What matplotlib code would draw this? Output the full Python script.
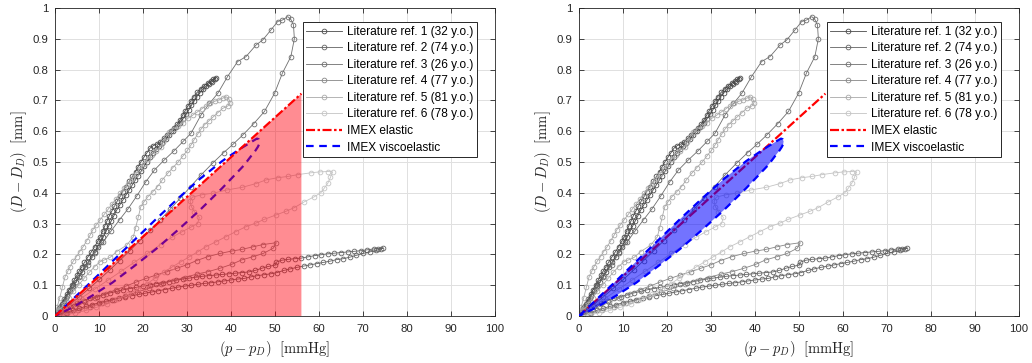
import numpy as np
import matplotlib
matplotlib.use('Agg')
import matplotlib.pyplot as plt

plt.rcParams['font.family'] = ['Liberation Sans', 'DejaVu Sans']
plt.rcParams['mathtext.fontset'] = 'cm'
plt.rcParams['lines.scale_dashes'] = False

# ---------------- data (pressure [mmHg], diameter change [mm]) ----------------
ref1 = np.array([
    (0, 0), (0.5, 0.012), (1, 0.025), (1.6, 0.04), (2.1, 0.055), (2.7, 0.07), (3.2, 0.086), (3.8, 0.102),
    (4.4, 0.118), (5, 0.133), (5.5, 0.146), (6.1, 0.16), (6.7, 0.174), (7.4, 0.19), (8.2, 0.207), (9, 0.225),
    (9.7, 0.242), (10.3, 0.258), (10.8, 0.275), (11.3, 0.292), (11.8, 0.308), (12.3, 0.324), (12.9, 0.34),
    (13.5, 0.356), (14.1, 0.372), (14.8, 0.388), (15.4, 0.404), (16.1, 0.42), (16.9, 0.437), (17.6, 0.453),
    (18.3, 0.469), (18.9, 0.485), (19.5, 0.5), (20.2, 0.515), (20.9, 0.53), (21.6, 0.545), (22.3, 0.553),
    (23.1, 0.558), (23.9, 0.566), (24.7, 0.577), (25.5, 0.589), (26.3, 0.601), (27.1, 0.612), (27.8, 0.624),
    (28.4, 0.637), (29, 0.652), (29.6, 0.667), (30.2, 0.682), (30.8, 0.697), (31.5, 0.712), (32.3, 0.726),
    (33.1, 0.738), (33.9, 0.748), (34.7, 0.756), (35.4, 0.763), (36, 0.769), (36.6, 0.774),
    (36.3, 0.768), (35.7, 0.761), (35, 0.754), (34.3, 0.746), (33.6, 0.736), (32.9, 0.725), (32.2, 0.712),
    (31.6, 0.698), (31, 0.684), (30.4, 0.669), (29.8, 0.655), (29.1, 0.641), (28.4, 0.628), (27.6, 0.615),
    (26.8, 0.602), (26, 0.589), (25.2, 0.576), (24.4, 0.562), (23.7, 0.551), (23, 0.541), (22.3, 0.53),
    (21.6, 0.516), (20.9, 0.501), (20.3, 0.486), (19.6, 0.471), (18.9, 0.456), (18.2, 0.44), (17.5, 0.424),
    (16.8, 0.408), (16.1, 0.392), (15.4, 0.376), (14.7, 0.36), (14, 0.343), (13.4, 0.326), (12.8, 0.309),
    (12.2, 0.292), (11.6, 0.275), (11, 0.258), (10.4, 0.241), (9.7, 0.225), (9, 0.208), (8.3, 0.192),
    (7.6, 0.176), (6.9, 0.16), (6.2, 0.144), (5.5, 0.128), (4.8, 0.112), (4.1, 0.096), (3.4, 0.08),
    (2.7, 0.064), (2, 0.048), (1.3, 0.032), (0.6, 0.015), (0, 0)])

ref2 = np.array([
    (0, 0), (1, 0.012), (2, 0.022), (3.5, 0.032), (5, 0.042), (6.5, 0.05), (8, 0.057), (9.5, 0.063),
    (11, 0.069), (12.5, 0.075), (14, 0.08), (15.5, 0.085), (17, 0.089), (18.5, 0.093), (20, 0.097),
    (21.5, 0.101), (23, 0.105), (24.5, 0.108), (26, 0.112), (27.5, 0.116), (29, 0.12), (30.5, 0.123),
    (32, 0.126), (33.5, 0.129), (35, 0.131), (36.5, 0.133), (38, 0.135), (39.5, 0.137), (41, 0.139),
    (42.5, 0.141), (44, 0.143), (45.5, 0.148), (47, 0.155), (48.5, 0.161), (50, 0.165), (50.3, 0.175),
    (51.5, 0.181), (53, 0.184), (54.5, 0.186), (56, 0.188), (57.5, 0.192), (59, 0.196), (60.5, 0.199),
    (62, 0.202), (63.5, 0.204), (65, 0.206), (66.5, 0.208), (68, 0.21), (69.5, 0.212), (71, 0.215),
    (72.5, 0.218), (73.5, 0.219), (74.5, 0.22),
    (74, 0.217), (73, 0.213), (71.5, 0.208), (70, 0.203), (68.5, 0.197), (67, 0.191), (65.5, 0.186),
    (64, 0.183), (62.5, 0.178), (61, 0.174), (59.5, 0.17), (58, 0.166), (56.5, 0.162), (55, 0.158),
    (53.5, 0.153), (52, 0.148), (50.5, 0.141), (49, 0.137), (47.5, 0.134), (46, 0.131), (44.5, 0.127),
    (43, 0.122), (41.5, 0.12), (40, 0.117), (38.5, 0.114), (37, 0.111), (35.5, 0.108), (34, 0.106),
    (32.5, 0.103), (31, 0.1), (29.5, 0.097), (28, 0.094), (26.5, 0.09), (25, 0.086), (23.5, 0.082),
    (22, 0.078), (20.5, 0.074), (19, 0.07), (17.5, 0.066), (16, 0.062), (14.5, 0.057), (13, 0.053),
    (11.5, 0.048), (10, 0.043), (8.5, 0.037), (7, 0.031), (5.5, 0.025), (4, 0.018), (2.5, 0.011),
    (1, 0.004), (0, 0)])

ref3 = np.array([
    (0, 0), (1.2, 0.028), (2.6, 0.06), (4.1, 0.094), (5.7, 0.13), (7.4, 0.167), (9.1, 0.204), (10.9, 0.24),
    (12.8, 0.277), (14.7, 0.313), (16.6, 0.348), (18.6, 0.39), (20.6, 0.435), (22.6, 0.474), (24.8, 0.506),
    (27.1, 0.537), (29.2, 0.568), (30.9, 0.593), (33.2, 0.653), (35.1, 0.69), (37, 0.723), (39.2, 0.777),
    (41.5, 0.826), (43.4, 0.842), (45.7, 0.88), (47.2, 0.896), (49.1, 0.929), (50.6, 0.956), (51.7, 0.961),
    (52.9, 0.972), (53.6, 0.963), (54.2, 0.945), (54.4, 0.9), (53.6, 0.842), (51.7, 0.789), (49.9, 0.723),
    (47.6, 0.664), (45.2, 0.625), (42.7, 0.588), (40.5, 0.558), (38.3, 0.53), (35.8, 0.496), (33.2, 0.458),
    (30.8, 0.42), (28.5, 0.383), (26.2, 0.347), (23.9, 0.312), (21.6, 0.278), (19.3, 0.245), (17, 0.212),
    (14.7, 0.18), (12.4, 0.149), (10.1, 0.119), (7.8, 0.09), (5.5, 0.062), (3.2, 0.035), (1.3, 0.014), (0, 0)])

ref4 = np.array([
    (0, 0), (2.3, 0.016), (4.6, 0.03), (6.9, 0.045), (9.2, 0.058), (11.5, 0.072), (13.8, 0.085),
    (16.1, 0.097), (18.4, 0.11), (20.7, 0.122), (23, 0.133), (25.4, 0.144), (27.7, 0.155), (29.9, 0.166),
    (32.2, 0.18), (34.8, 0.193), (37.5, 0.203), (40.2, 0.211), (42.4, 0.216), (45.1, 0.225), (47.3, 0.232),
    (50.3, 0.238), (49.6, 0.22), (47.3, 0.203), (45.1, 0.193), (42.4, 0.182), (40.2, 0.168), (37.5, 0.155),
    (34.8, 0.144), (32.2, 0.136), (29.5, 0.125), (26.8, 0.115), (24.1, 0.103), (21.4, 0.09), (18.7, 0.078),
    (16, 0.065), (13.3, 0.053), (10.6, 0.041), (8, 0.03), (5.3, 0.019), (2.7, 0.009), (0, 0)])

ref5 = np.array([
    (0, 0), (0.5, 0.03), (1.1, 0.06), (1.7, 0.095), (2.3, 0.128), (2.9, 0.145), (3.4, 0.16), (4.1, 0.177),
    (4.9, 0.193), (5.6, 0.209), (6.4, 0.225), (7.2, 0.244), (8, 0.263), (8.6, 0.28), (9.4, 0.296),
    (10.3, 0.313), (11.2, 0.33), (12.1, 0.347), (13, 0.364), (13.9, 0.381), (14.8, 0.398), (15.7, 0.414),
    (16.6, 0.43), (17.5, 0.446), (18.4, 0.462), (19.3, 0.478), (20.2, 0.494), (21.1, 0.51), (22, 0.523),
    (23, 0.537), (24, 0.55), (24.6, 0.566), (25.2, 0.58), (26, 0.596), (27, 0.608), (28, 0.617),
    (29, 0.628), (30.2, 0.642), (31.3, 0.652), (32.3, 0.662), (33.3, 0.672), (34.3, 0.682), (35.3, 0.69),
    (36.3, 0.697), (37.3, 0.702), (38.2, 0.708), (38.9, 0.712), (39.5, 0.705), (39.8, 0.693), (39.3, 0.682),
    (38.1, 0.674), (37, 0.66), (36, 0.647), (35, 0.634), (34, 0.621), (33.2, 0.607), (32.4, 0.59),
    (31.6, 0.572), (30.9, 0.555), (30.1, 0.538), (29.1, 0.52), (28, 0.5), (26.8, 0.482), (25.6, 0.463),
    (24.4, 0.442), (23.3, 0.42), (22.2, 0.403), (21.1, 0.387), (20.2, 0.37), (19.5, 0.355), (18.9, 0.32),
    (18.3, 0.285), (17.8, 0.257), (16.3, 0.23), (14, 0.209), (12.5, 0.19), (11.2, 0.182), (10.2, 0.176),
    (9, 0.16), (7.8, 0.142), (6.6, 0.122), (5.4, 0.101), (4.2, 0.08), (3.1, 0.059), (2, 0.038),
    (1, 0.018), (0, 0)])

ref6 = np.array([
    (0, 0), (3, 0.03), (6, 0.058), (9, 0.087), (12, 0.116), (15, 0.145), (18, 0.174), (21, 0.203),
    (24, 0.232), (26.5, 0.255), (28.8, 0.273), (30.8, 0.288), (32.4, 0.3), (32.8, 0.32), (31.7, 0.338),
    (31, 0.355), (30.7, 0.372), (31.2, 0.386), (33.5, 0.394), (36, 0.399), (39, 0.409), (42.6, 0.418),
    (45.7, 0.43), (48, 0.442), (50.6, 0.449), (52.9, 0.453), (55.2, 0.459), (58.2, 0.465), (60.2, 0.468),
    (62, 0.469), (63.1, 0.468), (62.6, 0.45), (62, 0.431), (61.2, 0.415), (60.4, 0.4), (58.9, 0.387),
    (56.7, 0.371), (54.4, 0.352), (52.5, 0.34), (50.2, 0.328), (47.6, 0.314), (45.7, 0.302), (43.4, 0.29),
    (41.1, 0.274), (38.9, 0.258), (36.6, 0.241), (34.3, 0.225), (32.4, 0.208), (30.5, 0.192), (28.6, 0.176),
    (26.7, 0.16), (24.7, 0.142), (22.8, 0.123), (20.8, 0.104), (18.8, 0.087), (16.6, 0.07), (14.2, 0.054),
    (11.8, 0.04), (9.4, 0.028), (7, 0.018), (4.6, 0.01), (2.3, 0.004), (0, 0)])

ref_labels = ['Literature ref. 1 (32 y.o.)', 'Literature ref. 2 (74 y.o.)', 'Literature ref. 3 (26 y.o.)',
              'Literature ref. 4 (77 y.o.)', 'Literature ref. 5 (81 y.o.)', 'Literature ref. 6 (78 y.o.)']
ref_colors = ['#4a4a4a', '#626262', '#6e6e6e', '#868686', '#a8a8a8', '#c4c4c4']

elastic_p = [0, 56]
elastic_d = [0, 0.722]

visc = np.array([
    (0, 0), (4, 0.054), (8, 0.108), (13, 0.177), (18, 0.246), (23, 0.315), (28, 0.382), (33, 0.446),
    (38, 0.503), (42, 0.542), (44.5, 0.564), (45.3, 0.571), (45.9, 0.576), (46.3, 0.574), (46.5, 0.567),
    (46.4, 0.558), (46.1, 0.549), (45.6, 0.538), (44.6, 0.52), (43, 0.49), (38, 0.415), (33, 0.345),
    (28, 0.28), (23, 0.218), (18, 0.162), (13, 0.108), (8, 0.062), (4, 0.028), (0, 0)])

x_ticks = np.arange(0, 101, 10)
y_ticks = np.round(np.arange(0, 1.01, 0.1), 1)
y_tick_labels = ['0', '0.1', '0.2', '0.3', '0.4', '0.5', '0.6', '0.7', '0.8', '0.9', '1']

# ---------------- figure ----------------
W, H = 1032, 363
fig = plt.figure(figsize=(W / 100, H / 100), dpi=100)
ax1 = fig.add_axes([55 / W, 47 / H, 440 / W, 308 / H])
ax2 = fig.add_axes([579 / W, 47 / H, 440 / W, 308 / H])

SPINE = '#262626'
RED_DASH = (0, (6.5, 1.8, 1.8, 1.8))
BLUE_DASH = (0, (5.5, 4.0))


def draw_refs(ax):
    hs = []
    for data, c, lab in zip([ref1, ref2, ref3, ref4, ref5, ref6], ref_colors, ref_labels):
        h, = ax.plot(data[:, 0], data[:, 1], '-o', color=c, lw=0.6, ms=3.4, mfc='none', mec=c,
                     mew=0.6, label=lab, zorder=2)
        hs.append(h)
    return hs


def style(ax):
    ax.set_xlim(0, 100)
    ax.set_ylim(0, 1)
    ax.set_xticks(x_ticks)
    ax.set_yticks(y_ticks)
    ax.set_yticklabels(y_tick_labels)
    ax.grid(True, color='#e0e0e0', lw=0.7)
    ax.set_axisbelow(True)
    for s in ax.spines.values():
        s.set_color(SPINE)
        s.set_linewidth(0.6)
    ax.tick_params(direction='in', length=3.5, width=0.6, colors=SPINE, labelsize=8.2,
                   top=True, right=True)
    ax.tick_params(axis='x', pad=6)
    ax.tick_params(axis='y', pad=5)
    ax.set_xlabel(r'$(p - p_D)\ \ \mathrm{[mmHg]}$', fontsize=10.5, color=SPINE)
    ax.set_ylabel(r'$(D - D_D)\ \ \mathrm{[mm]}$', fontsize=10.5, color=SPINE)
    ax.xaxis.set_label_coords(0.5, -0.074)
    ax.yaxis.set_label_coords(-0.059, 0.5)


def legend(ax, handles):
    leg = ax.legend(handles=handles, loc='upper left', bbox_to_anchor=(0.5625, 0.954),
                    borderaxespad=0, fontsize=8.6, handlelength=3.0, handletextpad=0.4,
                    borderpad=0.3, labelspacing=0.38, numpoints=1, fancybox=False,
                    framealpha=1, edgecolor=SPINE)
    leg.get_frame().set_linewidth(0.7)
    leg.set_zorder(10)


# left panel
h1 = draw_refs(ax1)
hv1, = ax1.plot(visc[:, 0], visc[:, 1], color='#0000ff', lw=1.6, ls=BLUE_DASH, zorder=3,
                label='IMEX viscoelastic')
ax1.fill_between(elastic_p, 0, elastic_d, facecolor=(1.0, 0.0, 0.06), alpha=0.45, lw=0, zorder=4)
he1, = ax1.plot(elastic_p, elastic_d, color='#ff0000', lw=1.6, ls=RED_DASH, zorder=5,
                label='IMEX elastic')
style(ax1)
legend(ax1, h1 + [he1, hv1])

# right panel
h2 = draw_refs(ax2)
he2, = ax2.plot(elastic_p, elastic_d, color='#ff0000', lw=1.6, ls=RED_DASH, zorder=3,
                label='IMEX elastic')
ax2.fill(visc[:, 0], visc[:, 1], facecolor=(0.0, 0.0, 1.0), alpha=0.55, lw=0, zorder=4)
hv2, = ax2.plot(visc[:, 0], visc[:, 1], color='#0000ff', lw=1.6, ls=BLUE_DASH, zorder=5,
                label='IMEX viscoelastic')
style(ax2)
legend(ax2, h2 + [he2, hv2])

fig.savefig('out.png', dpi=100)
